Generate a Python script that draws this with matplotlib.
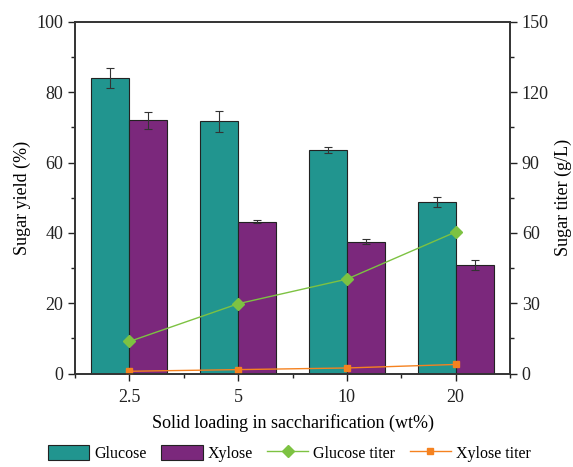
import numpy as np
import matplotlib.pyplot as plt
from matplotlib.ticker import MultipleLocator

plt.rcParams['font.family'] = ['Liberation Serif', 'DejaVu Serif']

loadings = ['2.5', '5', '10', '20']
glucose_yield = [84.0, 71.8, 63.5, 48.8]
glucose_err = [2.8, 3.0, 0.8, 1.3]
xylose_yield = [72.0, 43.2, 37.5, 30.9]
xylose_err = [2.4, 0.5, 0.7, 1.3]
glucose_titer = [13.7, 29.8, 40.3, 60.4]
xylose_titer = [1.0, 1.7, 2.4, 3.9]

x = np.arange(len(loadings))
w = 0.35

fig, ax = plt.subplots(figsize=(5.73, 4.67), dpi=100)
fig.subplots_adjust(left=0.131, right=0.89, top=0.953, bottom=0.2)

err_kw = dict(ecolor='#333333', elinewidth=0.8, capsize=3, capthick=0.8)
b1 = ax.bar(x - w / 2, glucose_yield, w, yerr=glucose_err, color='#21958F',
            edgecolor='#222222', linewidth=0.8, error_kw=err_kw, label='Glucose')
b2 = ax.bar(x + w / 2, xylose_yield, w, yerr=xylose_err, color='#7B287C',
            edgecolor='#222222', linewidth=0.8, error_kw=err_kw, label='Xylose')

ax.set_xlim(-0.5, 3.5)
ax.set_ylim(0, 100)
ax.set_xticks(x)
ax.set_xticklabels(loadings)
ax.xaxis.set_minor_locator(MultipleLocator(0.5))
ax.yaxis.set_major_locator(MultipleLocator(20))
ax.yaxis.set_minor_locator(MultipleLocator(10))
ax.set_xlabel('Solid loading in saccharification (wt%)', fontsize=13, labelpad=6)
ax.set_ylabel('Sugar yield (%)', fontsize=13)

ax2 = ax.twinx()
l1, = ax2.plot(x, glucose_titer, color='#7DC242', marker='D', markersize=6,
               linewidth=1, label='Glucose titer')
l2, = ax2.plot(x, xylose_titer, color='#F58220', marker='s', markersize=5,
               linewidth=1, label='Xylose titer')
ax2.set_ylim(0, 150)
ax2.yaxis.set_major_locator(MultipleLocator(30))
ax2.yaxis.set_minor_locator(MultipleLocator(15))
ax2.set_ylabel('Sugar titer (g/L)', fontsize=13, labelpad=4)

for a in (ax, ax2):
    for s in a.spines.values():
        s.set_linewidth(1.2)
        s.set_color('#333333')
    a.tick_params(which='both', direction='out', labelsize=13, colors='#222222')
    a.tick_params(which='major', length=5, width=1)
    a.tick_params(which='minor', length=3, width=1)
ax.tick_params(axis='x', which='both', pad=6)

fig.legend(handles=[b1, b2, l1, l2], loc='lower center', ncol=4, frameon=False,
           fontsize=11.5, bbox_to_anchor=(0.505, -0.02), handlelength=2.6,
           handleheight=1.1, columnspacing=0.9, handletextpad=0.3)

fig.savefig('out.png', dpi=100)
